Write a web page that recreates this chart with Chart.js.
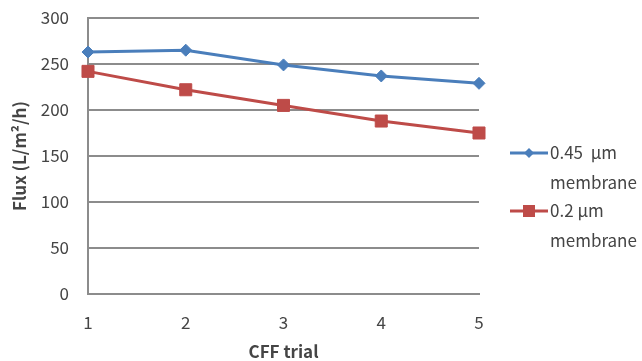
<!DOCTYPE html>
<html>
<head>
<meta charset="utf-8">
<script src="https://cdn.jsdelivr.net/npm/chart.js@4"></script>
<style>
  html, body { margin: 0; padding: 0; background: #fff; }
  #wrap { width: 642px; height: 361px; }
</style>
</head>
<body>
<div id="wrap"><canvas id="fluxChart" width="642" height="361"></canvas></div>
<script>
// 데이터
const trials = ['1', '2', '3', '4', '5'];
const flux045 = [263, 265, 249, 237, 229];
const flux02 = [242, 222, 205, 188, 175];
const yTicks = [0, 50, 100, 150, 200, 250, 300];
const seriesNames = [['0.45  μm', 'membrane'], ['0.2 μm', 'membrane']];

const FONT = "'Noto Sans CJK KR', 'Noto Sans', sans-serif";
const TEXT = '#454545';
const GRID = '#8c8c8c';

// 오른쪽 범례 (줄바꿈 포함)
const sideLegend = {
    id: 'sideLegend',
    afterDraw(chart) {
        const ctx = chart.ctx;
        const rows = [153, 211];
        ctx.save();
        chart.data.datasets.forEach((ds, i) => {
            const y = rows[i];
            ctx.strokeStyle = ds.borderColor;
            ctx.lineWidth = 3;
            ctx.beginPath();
            ctx.moveTo(510, y);
            ctx.lineTo(548, y);
            ctx.stroke();
            ctx.fillStyle = ds.backgroundColor;
            ctx.beginPath();
            if (ds.pointStyle === 'rectRot') {
                ctx.moveTo(529 - 5, y); ctx.lineTo(529, y - 5);
                ctx.lineTo(529 + 5, y); ctx.lineTo(529, y + 5);
            } else {
                ctx.rect(529 - 6, y - 6, 12, 12);
            }
            ctx.closePath();
            ctx.fill();
            ctx.fillStyle = TEXT;
            ctx.font = '17px ' + FONT;
            ctx.textAlign = 'left';
            ctx.textBaseline = 'middle';
            ds.legendText.forEach((t, j) => ctx.fillText(t, 550, y + j * 30));
        });
        ctx.restore();
    }
};

const ctx = document.getElementById('fluxChart');
new Chart(ctx, {
    type: 'line',
    data: {
        labels: trials,
        datasets: [
            {
                label: '0.45 μm membrane',
                legendText: seriesNames[0],
                data: flux045,
                borderColor: '#4a7ebb',
                backgroundColor: '#4a7ebb',
                borderWidth: 3,
                pointStyle: 'rectRot',
                pointRadius: 6,
                pointBorderWidth: 1,
                tension: 0
            },
            {
                label: '0.2 μm membrane',
                legendText: seriesNames[1],
                data: flux02,
                borderColor: '#be4b48',
                backgroundColor: '#be4b48',
                borderWidth: 3,
                pointStyle: 'rect',
                pointRadius: 8.5,
                pointBorderWidth: 1,
                tension: 0
            }
        ]
    },
    options: {
        responsive: false,
        animation: false,
        layout: { padding: { left: 0, top: 18, right: 642 - 479, bottom: 0 } },
        plugins: {
            legend: { display: false },
            tooltip: { enabled: false }
        },
        scales: {
            x: {
                offset: false,
                grid: { display: false, drawTicks: false },
                border: { color: GRID, width: 2 },
                ticks: { color: TEXT, font: { family: FONT, size: 17 }, padding: 18, maxRotation: 0 },
                title: {
                    display: true,
                    text: 'CFF trial',
                    color: TEXT,
                    font: { family: FONT, size: 17, weight: 'bold' },
                    padding: { top: 0, bottom: -1 }
                },
                afterFit: scale => {
                    scale.height = 361 - 294;
                    scale.paddingLeft = 0;
                    scale.paddingRight = 0;
                }
            },
            y: {
                min: 0,
                max: 300,
                afterBuildTicks: scale => { scale.ticks = yTicks.map(v => ({ value: v })); },
                grid: { color: GRID, lineWidth: 2, drawTicks: false },
                border: { color: GRID, width: 2 },
                ticks: { color: TEXT, font: { family: FONT, size: 17 }, padding: 19 },
                title: {
                    display: true,
                    text: 'Flux (L/m²/h)',
                    color: TEXT,
                    font: { family: FONT, size: 17, weight: 'bold' },
                    padding: { top: 9, bottom: 0 }
                },
                afterFit: scale => {
                    scale.width = 88;
                    scale.paddingTop = 0;
                    scale.paddingBottom = 0;
                }
            }
        }
    },
    plugins: [sideLegend]
});
</script>
</body>
</html>
